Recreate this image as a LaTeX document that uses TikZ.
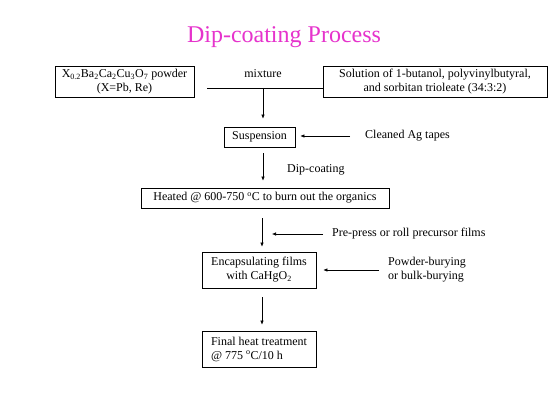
\documentclass[tikz,border=0pt]{standalone}
\usepackage{fontspec}
\setmainfont{Liberation Serif}
\usetikzlibrary{arrows.meta}
\definecolor{titlepink}{RGB}{230,51,204}
\begin{document}
\begin{tikzpicture}[x=1pt,y=-1pt,
  every node/.style={font=\fontsize{12}{14}\selectfont},
  box/.style={draw,line width=0.7pt,inner sep=2pt},
  lbl/.style={inner sep=0pt,anchor=west},
  arr/.style={line width=0.6pt,-{Latex[length=4pt,width=3.5pt]}},
  ln/.style={line width=0.6pt}]
\useasboundingbox (0,0) rectangle (560,420);
\fill[white] (0,0) rectangle (560,420);
\node[font=\fontsize{24}{28}\selectfont,text=titlepink] (title) at (284,37) {Dip-coating Process};
\node[box,minimum width=139pt,minimum height=31pt,align=center] (b1) at (124.5,82)
  {X\textsubscript{0.2}Ba\textsubscript{2}Ca\textsubscript{2}Cu\textsubscript{3}O\textsubscript{7} powder\\(X=Pb, Re)};
\node[box,minimum width=224pt,minimum height=31pt,align=center] (b2) at (435,82)
  {Solution of 1-butanol, polyvinylbutyral,\\and sorbitan trioleate (34:3:2)};
\coordinate (m) at (263,88);
\coordinate (c2) at (262,0);
\node (mix) at (263,74) {mixture};
\draw[ln,shorten <=13pt] (b1.east |- m) -- (b2.west |- m);
\node[box,minimum width=71pt,minimum height=20pt] (susp) at (259.5,137) {Suspension};
\draw[arr,shorten >=8pt] (m) -- (m |- susp.north);
\node[lbl] (clean) at (365,136) {Cleaned Ag tapes};
\draw[arr,shorten <=15pt,shorten >=5pt] (clean.west) -- (clean.west -| susp.east);
\node[lbl] (dip) at (287,170) {Dip-coating};
\node[box,minimum width=248pt,minimum height=20pt] (heat) at (265,198)
  {Heated @ 600-750 \textsuperscript{o}C to burn out the organics};
\draw[arr,shorten <=6pt,shorten >=7pt] (m |- susp.south) -- (m |- heat.north);
\node[box,minimum width=114pt,minimum height=36pt,align=center] (enc) at (259,270)
  {Encapsulating films\\with CaHgO\textsubscript{2}};
\draw[arr,shorten <=10pt,shorten >=5pt] (c2 |- heat.south) -- (c2 |- enc.north);
\node[lbl] (pre) at (332,234) {Pre-press or roll precursor films};
\draw[arr,shorten <=9pt,shorten >=10pt] (pre.west) -- (pre.west -| c2);
\node[lbl,align=left] (pow) at (388,270) {Powder-burying\\or bulk-burying};
\draw[arr,shorten <=9pt,shorten >=7pt] (pow.west) -- (pow.west -| enc.east);
\node[box,minimum width=114pt,minimum height=36pt,align=left] (fin) at (259,349)
  {Final heat treatment\\@ 775 \textsuperscript{o}C/10 h};
\draw[arr,shorten <=9pt,shorten >=6pt] (c2 |- enc.south) -- (c2 |- fin.north);
\end{tikzpicture}
\end{document}
